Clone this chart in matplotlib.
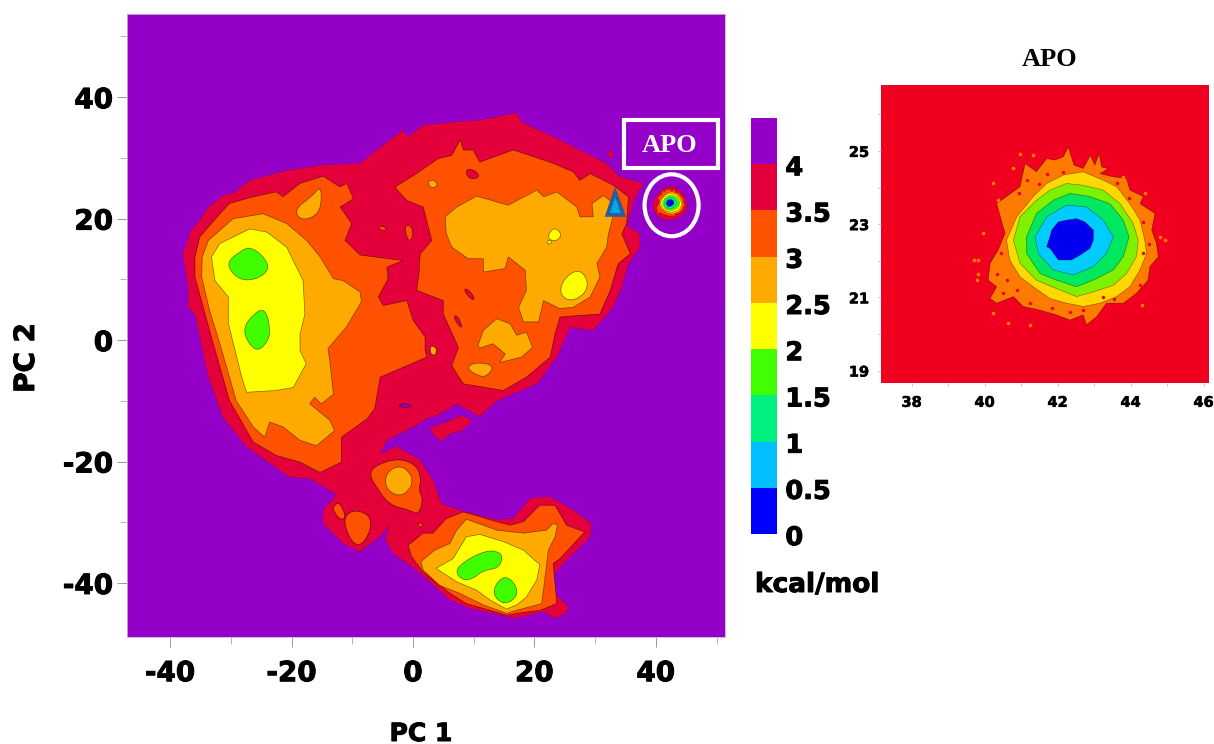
import numpy as np
import matplotlib
matplotlib.use("Agg")
import matplotlib.pyplot as plt
import matplotlib.patheffects as pe
from matplotlib.colors import ListedColormap, BoundaryNorm
from matplotlib.colorbar import Colorbar
from matplotlib.patches import Ellipse, PathPatch, Polygon, Rectangle
from matplotlib.path import Path
from matplotlib.transforms import ScaledTranslation

# energy bands, kcal/mol
levels = [0, 0.5, 1, 1.5, 2, 2.5, 3, 3.5, 4, 4.5]
level_labels = ["0", "0.5", "1", "1.5", "2", "2.5", "3", "3.5", "4"]
band_colors = ["#0000ff", "#00bfff", "#00f080", "#40ff00", "#ffff00",
               "#ffaa00", "#ff5200", "#e4003a", "#9400c8"]
inset_colors = ["#0000f0", "#00ccff", "#00e860", "#7ff000", "#ffd800", "#ff7a00"]

# main panel outlines as (PC1, PC2)
red_outer = [(-37.9,14.2),(-36.5,18.1),(-35.4,19.4),(-33.7,21.9),(-31.3,23.8),(-29.6,24.2),(-26.9,26.3),(-20.8,27.9),
    (-15.3,28.8),(-8.7,29.1),(-6.0,31.3),(-1.6,34.6),(-0.8,33.5),(1.7,35.4),(6.7,35.9),(11.0,36.2),
    (17.1,37.4),(17.9,35.9),(22.0,34.0),(25.3,32.4),(29.7,30.2),(31.9,29.1),(34.1,26.9),(38.0,25.8),
    (36.6,23.6),(35.2,18.9),(37.4,17.5),(37.4,15.3),(35.5,12.6),(34.4,8.7),(33.0,5.4),(29.7,1.6),
    (25.9,2.1),(23.7,-2.8),(20.4,-7.2),(13.8,-10.0),(11.0,-12.6),(7.2,-10.5),(4.4,-12.2),(2.3,-12.9),
    (0.05,-14.3),(-4.3,-16.5),(-5.4,-18.7),(-2.7,-17.5),(1.1,-19.7),(3.3,-23.0),(4.7,-26.9),(7.7,-28.0),
    (13.8,-29.6),(16.5,-29.4),(19.3,-26.0),(22.6,-25.8),(26.4,-28.0),(29.4,-30.2),(29.2,-32.4),
    (24.8,-36.8),(22.8,-39.0),(23.4,-41.7),(25.6,-43.9),(25.3,-45.0),(23.4,-45.8),(21.5,-44.7),
    (17.1,-45.8),(14.3,-45.3),(9.4,-44.2),(6.1,-42.8),(0.6,-37.9),(-3.3,-35.1),(-4.6,-32.7),(-3.8,-30.5),
    (-5.5,-32.4),(-8.8,-34.9),(-11.5,-33.5),(-14.8,-30.2),(-14.8,-28.0),(-12.6,-25.5),(-14.3,-24.4),
    (-17.0,-22.8),(-20.3,-22.6),(-27.4,-17.6),(-31.3,-12.7),(-33.7,-6.1),(-35.9,4.3),(-37.0,5.2),(-37.0,8.7)]
red_island = [(2.8,-14.5),(5.5,-13.5),(8.0,-12.4),(9.7,-13.2),(8.3,-14.8),(6.0,-15.5),(4.7,-16.7),(3.3,-15.5)]
red_dot = [(32.0,30.7),(32.6,31.3),(33.1,30.7),(32.6,30.0)]
purple_hole = [(-2.6,-10.8),(-1.3,-10.4),(0.0,-10.8),(-1.3,-11.2)]
red_apo = [(39.3,22.5),(40.7,24.7),(42.6,25.5),(44.5,24.4),(45.4,21.9),(44.3,20.3),(41.8,19.5),(39.9,20.6)]

level3_left = [(-35.9,13.7),(-35.1,17.0),(-31.8,20.8),(-30.2,22.5),(-26.3,23.6),(-22.5,24.4),(-21.4,23.6),
    (-18.6,25.8),(-14.8,27.0),(-12.0,25.2),(-10.9,25.8),(-9.8,23.3),(-12.0,21.9),(-10.1,19.2),(-11.2,16.4),
    (-8.7,14.0),(-1.6,13.1),(-4.3,12.0),(-4.1,10.1),(-5.7,7.1),(-4.9,5.7),(-1.0,6.5),(0.05,3.2),(2.0,0.5),
    (2.0,-1.7),(2.3,-2.8),(-5.4,-6.1),(-6.3,-11.3),(-7.6,-13.0),(-11.8,-16.0),(-11.8,-20.1),(-15.3,-21.8),
    (-18.6,-20.1),(-22.5,-19.0),(-26.3,-16.8),(-30.2,-10.0),(-33.2,0.5),(-35.9,10.4)]
level3_right = [(-3.0,25.2),(0.1,27.1),(4.2,29.9),(6.4,30.4),(7.8,33.0),(8.3,31.3),(9.9,31.3),(11.0,29.3),
    (16.5,31.3),(19.3,30.4),(23.1,29.1),(26.4,27.7),(27.5,26.3),(29.2,27.4),(33.0,25.5),(35.5,23.6),
    (35.2,19.2),(34.4,17.5),(35.8,14.2),(33.8,12.6),(32.5,8.2),(30.8,4.3),(24.2,3.8),(23.4,1.0),(22.6,-2.8),
    (18.7,-6.1),(14.9,-8.3),(8.3,-7.2),(6.4,-4.2),(7.5,-1.2),(5.0,4.3),(5.0,6.5),(0.6,8.2),(1.0,10.9),
    (1.2,14.2),(3.1,16.4),(1.7,21.9),(-1.0,23.0)]
level3_basin = [(-7.4,-21.9),(-5.5,-20.3),(-2.2,-19.5),(0.6,-20.6),(1.4,-23.0),(0.9,-24.7),(1.7,-26.3),
    (0.9,-28.8),(-0.5,-28.0),(-3.8,-27.2),(-5.7,-24.7)]
level3_bit1 = [(-13.2,-27.4),(-12.1,-26.6),(-11.0,-29.1),(-11.8,-29.7),(-12.9,-28.5)]
level3_bit2 = [(-11.2,-29.1),(-9.9,-28.0),(-7.7,-28.5),(-6.8,-29.9),(-7.4,-32.4),(-8.8,-33.9),(-10.1,-33.2),(-11.2,-30.7)]
level3_bit3 = [(0.6,-30.2),(1.7,-30.1),(1.4,-31.0)]
level3_bit4 = [(-1.5,18.9),(-0.2,18.9),(0.05,17.0),(-0.8,16.1)]
level3_bit5 = [(-5.7,18.8),(-4.4,18.6),(-4.5,18.0),(-5.5,18.2)]
level3_low = [(-0.8,-33.8),(1.7,-31.8),(3.3,-31.8),(5.5,-29.4),(8.3,-28.3),(12.7,-29.6),(16.0,-30.5),(18.2,-29.9),
    (20.9,-27.2),(23.4,-27.2),(25.3,-30.5),(28.3,-31.6),(24.2,-36.0),(23.1,-36.8),(23.7,-43.4),(20.9,-44.5),
    (17.1,-45.0),(15.4,-45.3),(12.7,-44.5),(8.8,-43.4),(6.1,-41.7),(1.7,-38.2),(-0.2,-35.7)]
red_holes = [[(8.6,28.2),(10.3,28.0),(11.1,26.7),(9.1,26.5)],
             [(8.3,8.3),(9.0,8.5),(10.3,6.8),(9.6,6.6)],
             [(6.6,4.0),(7.4,4.0),(8.2,2.1),(7.6,2.2)],
             [(19.5,8.6),(20.8,8.0),(21.5,7.6),(20.2,7.4)]]

level25_left = [(-34.7,13.7),(-33.7,16.4),(-29.6,20.0),(-24.7,20.8),(-20.8,19.2),(-17.5,16.4),(-15.3,13.7),
    (-13.1,10.1),(-11.5,9.8),(-8.7,7.9),(-8.5,6.3),(-11.0,2.1),(-14.0,-1.4),(-13.7,-3.4),(-13.1,-8.9),
    (-15.1,-10.5),(-16.2,-9.4),(-17.0,-10.5),(-13.7,-13.2),(-12.9,-14.9),(-15.9,-17.4),(-18.6,-16.5),
    (-21.4,-14.3),(-23.6,-13.5),(-24.4,-16.0),(-26.3,-14.3),(-29.1,-10.0),(-31.8,-0.6),(-33.5,4.9),(-34.8,10.4)]
level25_top = [(-19.5,21.6),(-16.7,23.6),(-15.1,25.5),(-15.1,21.9),(-16.2,20.3),(-18.6,19.7)]
level25_right = [(5.3,20.3),(7.2,21.9),(10.5,23.7),(15.7,22.2),(20.4,24.7),(21.5,23.6),(23.7,24.4),(27.0,21.9),
    (27.5,20.3),(29.7,20.3),(29.5,22.5),(31.4,23.8),(33.0,22.5),(33.0,20.5),(32.2,17.5),(31.9,15.3),(30.3,12.6),
    (30.8,10.4),(29.2,7.1),(26.4,5.4),(24.2,5.2),(21.5,6.5),(20.7,3.0),(18.2,3.0),(17.4,5.4),(18.7,8.2),
    (18.5,11.5),(15.7,13.7),(15.2,11.8),(11.6,11.2),(11.6,13.4),(9.1,13.4),(6.4,15.3),(5.5,17.5)]
level25_mid = [(10.7,-0.9),(11.6,1.6),(13.8,3.5),(16.0,2.7),(17.1,0.8),(18.7,1.3),(19.7,-1.2),(17.9,-2.8),
    (14.3,-3.7),(15.2,-2.3),(13.2,-0.6),(11.0,-1.3)]
level25_small = [(8.7,-4.5),(10.5,-3.6),(13.5,-4.2),(12.1,-6.1),(10.5,-5.8)]
level25_dot = [(2.3,26.0),(3.4,26.5),(4.2,25.5),(3.1,24.9)]
level25_bit = [(2.8,-0.9),(3.9,-1.2),(3.8,-2.5),(2.9,-2.4)]
level25_basin = [(-4.7,-23.2),(-4.0,-21.5),(-2.3,-20.7),(-0.7,-21.5),(0.0,-23.2),(-0.7,-24.9),(-2.3,-25.7),(-4.0,-24.9)]
level25_low = [(1.3,-36.5),(3.6,-34.6),(6.1,-33.5),(7.2,-31.3),(8.8,-29.5),(13.8,-31.3),(18.2,-31.8),(22.0,-31.3),
    (23.1,-30.2),(23.8,-30.5),(23.4,-32.4),(22.3,-34.6),(21.5,-41.2),(21.2,-43.4),(17.1,-44.5),(15.4,-45.0),
    (11.6,-43.6),(7.7,-41.7),(4.4,-40.4),(1.7,-37.9)]

level2_left = [(-33.2,13.7),(-31.8,15.9),(-26.9,18.3),(-24.1,17.8),(-20.8,15.3),(-18.1,9.8),(-17.8,4.3),(-18.6,1.0),
    (-18.6,-1.7),(-17.6,-3.9),(-19.7,-7.8),(-22.5,-8.3),(-27.4,-8.6),(-28.2,-6.1),(-30.4,2.7),(-30.4,7.1),(-32.6,9.8)]
level2_right = [(24.1,7.6),(24.8,10.1),(27.3,11.8),(28.9,9.8),(28.4,7.6),(25.9,6.3)]
level2_dot1 = [(22.0,16.7),(23.1,18.7),(24.6,17.5),(23.7,16.2)]
level2_dot2 = [(22.0,16.4),(23.1,16.4),(22.3,15.6)]
level2_low = [(3.8,-37.6),(6.6,-36.0),(8.8,-32.4),(11.0,-32.0),(14.9,-33.2),(18.2,-34.6),(20.9,-37.0),(20.4,-39.5),
    (18.7,-42.3),(17.1,-43.6),(15.4,-44.3),(12.7,-42.8),(10.5,-41.2),(7.2,-39.8)]

level15_a = [(-30.7,12.6),(-29.1,14.2),(-26.6,15.6),(-23.6,12.6),(-24.4,10.7),(-27.1,9.7),(-29.3,10.4)]
level15_b = [(-28.0,1.9),(-26.3,4.3),(-24.4,5.3),(-23.5,2.1),(-23.8,-0.1),(-25.5,-1.9),(-27.1,-0.6)]
level15_c = [(6.9,-38.2),(8.3,-36.5),(12.1,-34.6),(14.3,-34.9),(14.8,-36.0),(14.0,-37.6),(11.6,-37.9),(9.9,-39.3),(8.3,-39.6)]
level15_d = [(13.2,-41.2),(14.3,-39.3),(15.7,-39.0),(17.1,-40.6),(17.1,-42.3),(15.4,-43.5),(13.8,-42.8)]

triangle = [(33.3,24.4),(32.0,20.6),(34.7,20.6)]

# inset panel outlines
apo_3 = [(42.29,25.11),(42.45,24.61),(42.70,24.52),(42.90,24.88),(43.02,24.61),(43.14,24.93),(43.21,24.56),
    (43.39,24.52),(43.16,24.38),(43.53,24.29),(43.89,24.25),(43.98,23.93),(44.35,23.75),(44.26,23.56),(44.67,23.29),
    (44.58,22.84),(44.71,22.47),(44.76,22.11),(44.53,21.84),(44.48,21.47),(44.16,21.11),(43.80,20.84),(43.34,20.84),
    (43.07,20.47),(42.79,20.25),(42.70,20.52),(42.34,20.38),(41.97,20.52),(41.52,20.65),(41.06,20.75),(40.79,21.02),
    (40.33,20.84),(40.15,20.97),(40.33,21.29),(40.10,21.47),(40.15,21.93),(40.37,22.29),(40.56,22.75),(40.33,23.56),
    (40.97,24.02),(41.11,24.65),(41.42,24.43),(41.70,24.79),(41.93,24.75),(42.16,24.84)]
apo_25 = [(42.16,24.34),(42.70,24.43),(43.25,24.20),(43.62,24.02),(43.98,23.56),(44.26,23.11),(44.39,22.56),(44.44,22.20),
    (44.26,21.75),(43.98,21.29),(43.62,21.02),(43.16,20.84),(42.70,20.75),(42.25,20.84),(41.79,20.97),(41.33,21.29),
    (40.97,21.56),(40.69,22.02),(40.60,22.56),(40.88,23.20),(41.33,23.75),(41.70,24.11)]
apo_2 = [(42.25,24.11),(42.70,24.06),(43.25,23.93),(43.71,23.56),(44.07,23.02),(44.21,22.56),(44.16,22.11),(43.89,21.65),
    (43.53,21.33),(42.98,21.15),(42.52,21.02),(41.97,21.24),(41.42,21.47),(40.97,21.93),(40.79,22.56),(40.97,23.20),
    (41.42,23.65),(41.79,23.93)]
apo_15 = [(42.34,23.84),(42.89,23.75),(43.43,23.56),(43.80,23.11),(43.96,22.65),(43.80,22.11),(43.53,21.75),(42.98,21.47),
    (42.52,21.29),(41.97,21.47),(41.52,21.65),(41.15,22.20),(41.15,22.65),(41.42,23.29),(41.88,23.65)]
apo_1 = [(42.25,23.52),(42.79,23.47),(43.25,23.11),(43.53,22.65),(43.34,22.20),(42.98,21.84),(42.43,21.61),(41.88,21.75),
    (41.47,22.20),(41.38,22.65),(41.70,23.20)]
apo_05 = [(42.02,23.06),(42.25,23.11),(42.52,23.15),(42.75,23.06),(42.98,22.84),(42.98,22.56),(42.89,22.34),(42.61,22.15),
    (42.38,22.02),(42.02,22.02),(41.79,22.34),(41.70,22.38),(41.79,22.65),(41.84,22.84)]
apo_rings = [apo_3, apo_25, apo_2, apo_15, apo_1, apo_05]

speck_out_x = [39.78,39.83,39.71,40.24,40.37,40.79,40.97,41.33,43.80,44.39,44.80,44.94,44.30,40.24,40.65,41.24,39.96,39.83]
speck_out_y = [21.47,22.02,22.02,24.11,23.65,24.52,24.91,24.88,24.29,23.84,22.65,22.56,20.79,20.56,20.29,20.25,22.75,21.65]
speck_in_x = [40.42,40.60,40.88,41.24,41.15,41.70,42.16,43.62,44.35,44.35,43.25,42.70,42.34,40.33,40.51,40.45,40.95,41.50,43.95,44.50,44.25,43.55,41.85]
speck_in_y = [22.65,21.47,21.20,20.84,24.20,24.38,24.43,24.11,23.06,22.20,21.02,20.65,20.61,21.65,21.11,22.20,23.85,24.10,23.70,22.45,21.35,20.95,20.70]

plt.rcParams["font.family"] = ["DejaVu Sans"]
plt.rcParams["font.weight"] = "bold"
plt.rcParams["axes.unicode_minus"] = False

W, H = 1214, 744
fig = plt.figure(figsize=(W / 100, H / 100), dpi=100, facecolor="white")
heavy = [pe.withStroke(linewidth=0.7, foreground="black")]

def px_axes(left, top, right, bottom):
    return fig.add_axes([left / W, 1 - bottom / H, (right - left) / W, (bottom - top) / H])

def blob(ax, pts, color, edge=(0, 0, 0, 0.55), lw=0.5, z=2):
    # quadratic curve with the read points as control points, contours look rounded
    pts = np.array(pts)
    mids = (pts + np.roll(pts, -1, axis=0)) / 2
    verts = [mids[-1]]
    codes = [Path.MOVETO]
    for i in range(len(pts)):
        verts += [pts[i], mids[i]]
        codes += [Path.CURVE3, Path.CURVE3]
    ax.add_patch(PathPatch(Path(verts, codes), facecolor=color, edgecolor=edge, lw=lw, zorder=z))

def rough(ax, pts, color, edge=(0, 0, 0, 0.5), lw=0.4, z=2):
    ax.add_patch(Polygon(pts, closed=True, facecolor=color, edgecolor=edge, lw=lw, zorder=z))

# === main free energy map ===
ax = px_axes(127, 14, 725, 637)
ax.set_facecolor(band_colors[8])
ax.set_xlim(-47.1, 51.4)
ax.set_ylim(-48.9, 53.7)

red, c3, c25, c2, c15 = band_colors[7], band_colors[6], band_colors[5], band_colors[4], band_colors[3]
for p in [red_outer, red_island, red_dot]:
    rough(ax, p, red, edge=(0.3, 0, 0.2, 0.3))
blob(ax, red_apo, red, edge=(0.3, 0, 0.2, 0.3))
blob(ax, purple_hole, band_colors[8])
for p in [level3_left, level3_right, level3_low]:
    rough(ax, p, c3, lw=0.5)
for p in [level3_basin, level3_bit1, level3_bit2, level3_bit3, level3_bit4, level3_bit5]:
    blob(ax, p, c3)
for p in red_holes:
    blob(ax, p, red)
for p in [level25_left, level25_right, level25_mid, level25_low]:
    rough(ax, p, c25, lw=0.5)
for p in [level25_top, level25_small, level25_dot, level25_bit, level25_basin]:
    blob(ax, p, c25)
for p in [level2_left, level2_low]:
    rough(ax, p, c2, lw=0.5)
for p in [level2_right, level2_dot1, level2_dot2]:
    blob(ax, p, c2)
for p in [level15_a, level15_b, level15_c, level15_d]:
    blob(ax, p, c15)

main_ring_colors = [c3, c25, c2, c15, band_colors[2], band_colors[1]]
for ring, col in zip(apo_rings, main_ring_colors):
    rough(ax, ring, col, lw=0.25, z=3)
rough(ax, apo_05, band_colors[0], lw=0.25, z=3)

ax.add_patch(Polygon(triangle, closed=True, facecolor="#00a8e8", edgecolor="#2a5c9e", lw=2.6, joinstyle="miter", zorder=4))
ax.add_patch(Rectangle((34.7, 28.3), 15.5, 7.9, facecolor="none", edgecolor="white", lw=3, zorder=5))
ax.add_patch(Ellipse((42.6, 22.2), 8.9, 10.2, facecolor="none", edgecolor="white", lw=3, zorder=5))
ax.text(42.2, 32.1, "APO", color="white", fontsize=19, family="Liberation Serif", weight="bold",
        ha="center", va="center", zorder=6)

ax.set_xticks([-40, -20, 0, 20, 40])
ax.set_xticks([-30, -10, 10, 30, 50], minor=True)
ax.set_yticks([-40, -20, 0, 20, 40])
ax.set_yticks([-30, -10, 10, 30, 50], minor=True)
ax.tick_params(which="major", length=7, width=0.7, color="#9a9a9a", labelsize=20)
ax.tick_params(which="minor", length=5, width=0.7, color="#b5b5b5")
ax.tick_params(axis="x", which="major", pad=9)
ax.tick_params(axis="y", which="major", pad=3)
for lab in ax.get_xticklabels() + ax.get_yticklabels():
    lab.set_path_effects(heavy)
for s in ax.spines.values():
    s.set_color("#c8b0d8")
    s.set_linewidth(0.6)

fig.text(421 / W, 1 - 734 / H, "PC 1", fontsize=18, ha="center", va="center", path_effects=heavy)
fig.text(26 / W, 1 - 358 / H, "PC 2", fontsize=20, rotation=90, ha="center", va="center", path_effects=heavy)

# === colour scale ===
cax = px_axes(750.5, 118, 777, 534)
cmap = ListedColormap(band_colors)
norm = BoundaryNorm(levels, cmap.N)
cb = Colorbar(cax, cmap=cmap, norm=norm, boundaries=levels, spacing="uniform", drawedges=False)
cb.set_ticks(levels[:-1])
cb.set_ticklabels(level_labels)
cb.minorticks_off()
cb.outline.set_visible(False)
cax.tick_params(which="both", length=0, labelsize=18.5, pad=6)
shift = ScaledTranslation(0, -0.8 / 72, fig.dpi_scale_trans)
for lab in cax.get_yticklabels():
    lab.set_transform(lab.get_transform() + shift)
    lab.set_path_effects(heavy)
fig.text(755 / W, 1 - 585 / H, "kcal/mol", fontsize=19, ha="left", va="center", path_effects=heavy)

# === APO inset ===
ins = px_axes(881, 85, 1209, 383)
ins.set_facecolor("#f0001e")
ins.set_xlim(37.16, 46.15)
ins.set_ylim(18.66, 26.8)
for ring, col in zip(apo_rings, inset_colors[::-1]):
    rough(ins, ring, col)
ins.scatter(speck_out_x, speck_out_y, s=7, color=inset_colors[5], linewidths=0, zorder=3)
ins.scatter(speck_in_x, speck_in_y, s=6, color="#f0001e", linewidths=0, zorder=3)

ins.set_xticks([38, 40, 42, 44, 46])
ins.set_xticks([39, 41, 43, 45], minor=True)
ins.set_yticks([19, 21, 23, 25])
ins.set_yticks([20, 22, 24, 26], minor=True)
ins.tick_params(which="both", length=2.5, width=0.5, color="#aaaaaa", labelsize=10.5, pad=6)
for lab in ins.get_xticklabels() + ins.get_yticklabels():
    lab.set_path_effects([pe.withStroke(linewidth=0.4, foreground="black")])
for s in ins.spines.values():
    s.set_visible(False)
fig.text(1050 / W, 1 - 60 / H, "APO", fontsize=19, family="Liberation Serif", weight="bold", ha="center", va="center")

fig.savefig("out.png", dpi=100)
